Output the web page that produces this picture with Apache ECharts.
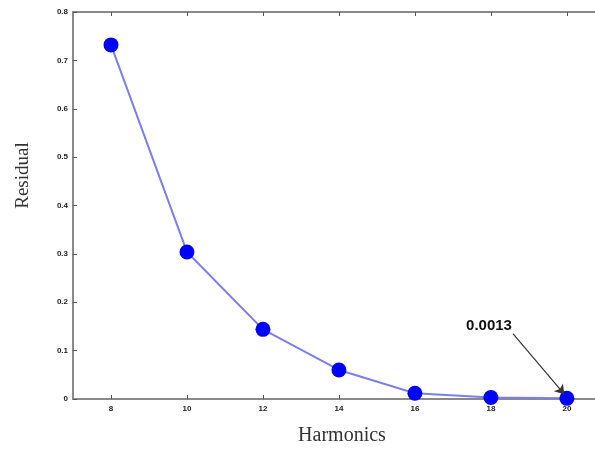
<!DOCTYPE html>
<html>
<head>
<meta charset="utf-8">
<script src="https://cdn.jsdelivr.net/npm/echarts@6/dist/echarts.min.js"></script>
<style>html,body{margin:0;padding:0;background:#fff}#c{width:595px;height:451px}</style>
</head>
<body>
<div id="c"></div>
<script>
var harmonics = [8, 10, 12, 14, 16, 18, 20];
var residual = [0.732, 0.304, 0.144, 0.060, 0.012, 0.003, 0.0013];
var xTicks = [8, 10, 12, 14, 16, 18, 20];
var yTicks = [0, 0.1, 0.2, 0.3, 0.4, 0.5, 0.6, 0.7, 0.8];
var annotationText = '0.0013';
var annotationStart = [18.58, 0.135];
var annotationEnd = [19.93, 0.01];
var annotationLabelAt = [17.95, 0.152];

var chart = echarts.init(document.getElementById('c'));
var axisCol = '#8a8a8a';
var tickLabel = {color: '#222', fontSize: 8, fontWeight: 'bold', fontFamily: 'Arial'};
chart.setOption({
  animation: false,
  grid: {left: 73, top: 12, right: 0, bottom: 50, containLabel: false},
  xAxis: [{
    type: 'value', min: 7, max: 20.74, position: 'bottom',
    name: 'Harmonics', nameLocation: 'middle', nameGap: 27,
    nameTextStyle: {fontFamily: 'Liberation Serif', fontSize: 20, color: '#333', padding: [0, 0, 0, 16]},
    axisLine: {lineStyle: {color: axisCol, width: 2}},
    axisTick: {inside: true, length: 4, customValues: xTicks, lineStyle: {color: '#555'}},
    axisLabel: Object.assign({customValues: xTicks, margin: 6}, tickLabel),
    splitLine: {show: false}
  }, {
    type: 'value', min: 7, max: 20.74, position: 'top',
    axisLine: {lineStyle: {color: axisCol, width: 2}},
    axisTick: {inside: true, length: 4, customValues: xTicks, lineStyle: {color: '#555'}},
    axisLabel: {show: false},
    splitLine: {show: false}
  }],
  yAxis: {
    type: 'value', min: 0, max: 0.8, interval: 0.1,
    name: 'Residual', nameLocation: 'middle', nameGap: 40,
    nameTextStyle: {fontFamily: 'Liberation Serif', fontSize: 19, color: '#333', padding: [0, 0, 0, 60]},
    axisLine: {lineStyle: {color: axisCol, width: 2}},
    axisTick: {inside: true, length: 4, lineStyle: {color: '#555'}},
    axisLabel: Object.assign({margin: 5, formatter: function (v) { return v === 0 ? '0' : v.toFixed(1); }}, tickLabel),
    splitLine: {show: false}
  },
  series: [{
    type: 'line',
    data: harmonics.map(function (h, i) { return [h, residual[i]]; }),
    symbol: 'circle', symbolSize: 15,
    itemStyle: {color: '#0000ff'},
    lineStyle: {color: '#7d7df2', width: 2},
    z: 3,
    markLine: {
      silent: true,
      symbol: ['none', 'arrow'], symbolSize: 9,
      lineStyle: {color: '#333', width: 1.2, type: 'solid'},
      label: {show: false},
      data: [[{coord: annotationStart}, {coord: annotationEnd}]]
    },
    markPoint: {
      symbol: 'circle', symbolSize: 0,
      label: {show: true, formatter: annotationText, color: '#111', fontSize: 15, fontFamily: 'Arial', fontWeight: 'bold'},
      data: [{coord: annotationLabelAt}]
    }
  }]
});
</script>
</body>
</html>
